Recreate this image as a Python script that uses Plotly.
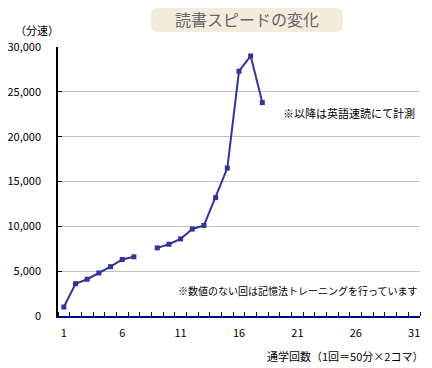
import plotly.graph_objects as go

sessions = list(range(1, 19))
speed = [1000, 3600, 4100, 4800, 5500, 6300, 6600, None, 7600, 8000, 8600, 9700, 10100, 13200, 16500, 27300, 29000, 23800]
x_tick_vals = [1, 6, 11, 16, 21, 26, 31]
y_tick_vals = [0, 5000, 10000, 15000, 20000, 25000, 30000]
y_tick_text = ["0", "5,000", "10,000", "15,000", "20,000", "25,000", "30,000"]

FONT = "Noto Sans CJK JP"
LINE = "#333399"

# page has an 8px body margin: the figure starts at (8, 8)
OFF = 8
W, H = 432 - OFF, 368 - OFF
L, R, T, B = 58 - OFF, 12, 47 - OFF, 52

fig = go.Figure()
fig.add_trace(go.Scatter(
    x=sessions, y=speed, mode="lines+markers",
    line=dict(color=LINE, width=2),
    marker=dict(symbol="square", size=5, color=LINE),
    connectgaps=False, hoverinfo="x+y", showlegend=False,
))

fig.update_layout(
    width=W, height=H,
    margin=dict(l=L, r=R, t=T, b=B, autoexpand=False),
    paper_bgcolor="white", plot_bgcolor="white",
    font=dict(family=FONT, size=12, color="#000000"),
    xaxis=dict(
        range=[0.5, 31.5], tickvals=x_tick_vals, ticks="",
        showgrid=False, zeroline=False,
        showline=True, linecolor="#000080", linewidth=1.5,
        tickfont=dict(size=11), ticklabelstandoff=6,
        minor=dict(ticks="inside", tick0=0.5, dtick=1, ticklen=4,
                   tickcolor="#000080", tickwidth=1, showgrid=False),
    ),
    yaxis=dict(
        range=[0, 30000], tickvals=y_tick_vals, ticktext=y_tick_text,
        ticks="inside", ticklen=4, tickcolor="black",
        showgrid=True, gridcolor="#c0c0c0", gridwidth=1,
        zeroline=False, showline=True, linecolor="black", linewidth=1.5,
        tickfont=dict(size=11), ticklabelstandoff=13,
    ),
)

def px(x):
    return (x - OFF - L) / (W - L - R)
def py(y):
    return 1 - (y - OFF - T) / (H - T - B)

# title box (page pixel coordinates)
x0, x1, y0, y1, r = 151, 343, 8, 32, 7
pts = [("M", [(x0 + r, y0)]), ("L", [(x1 - r, y0)]), ("Q", [(x1, y0), (x1, y0 + r)]),
       ("L", [(x1, y1 - r)]), ("Q", [(x1, y1), (x1 - r, y1)]), ("L", [(x0 + r, y1)]),
       ("Q", [(x0, y1), (x0, y1 - r)]), ("L", [(x0, y0 + r)]), ("Q", [(x0, y0), (x0 + r, y0)])]
path = " ".join(c + " " + " ".join(f"{px(a):.5f},{py(b):.5f}" for a, b in p) for c, p in pts) + " Z"
fig.add_shape(type="path", path=path, xref="paper", yref="paper",
              fillcolor="#f3ecdd", line=dict(width=0), layer="below")

def note(text, x, y, xanchor, size=11, color="#000000"):
    fig.add_annotation(text=text, xref="paper", yref="paper",
                       x=px(x), y=py(y), xanchor=xanchor, yanchor="middle",
                       showarrow=False, font=dict(size=size, color=color, family=FONT))

note("読書スピードの変化", 247, 19, "center", size=16, color="#666666")
note("（分速）", 13, 30, "left")
note("※以降は英語速読にて計測", 281, 113, "left")
note("※数値のない回は記憶法トレーニングを行っています", 176, 290, "left", size=10)
note("通学回数（1回＝50分×2コマ）", 425, 356, "right")

fig.write_html("out.html")
